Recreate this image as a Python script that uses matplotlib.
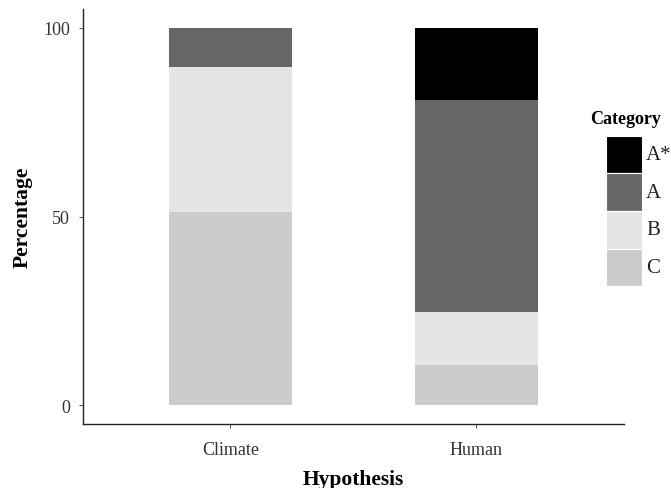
import matplotlib.pyplot as plt
from matplotlib.patches import Rectangle

# 数据
hypotheses = ['Climate', 'Human']
categories = ['C', 'B', 'A', 'A*']
values = {
    'C': [51.3, 10.6],
    'B': [38.4, 14.1],
    'A': [10.3, 56.1],
    'A*': [0.0, 19.2],
}
colors = {'A*': '#000000', 'A': '#666666', 'B': '#e5e5e5', 'C': '#cccccc'}
legend_order = ['A*', 'A', 'B', 'C']

plt.rcParams['font.family'] = ['Liberation Serif', 'DejaVu Serif']

W, H = 671, 489
fig = plt.figure(figsize=(W / 100, H / 100), dpi=100)
ax = fig.add_axes([82.7 / W, 1 - 425.3 / H, (624 - 82.7) / W, (425.3 - 10) / H])

x = list(range(len(hypotheses)))
bottom = [0.0] * len(hypotheses)
for cat in categories:
    ax.bar(x, values[cat], bottom=bottom, width=0.5, color=colors[cat], linewidth=0)
    bottom = [b + v for b, v in zip(bottom, values[cat])]

ax.set_xlim(-0.6, 1.6)
ax.set_ylim(-5, 105)
ax.set_xticks(x)
ax.set_xticklabels(hypotheses, fontsize=13, color='#333333')
ax.set_yticks([0, 50, 100])
ax.set_yticklabels(['0', '50', '100'], fontsize=13, color='#333333')
ax.tick_params(axis='x', length=3, width=0.6, color='#333333', pad=9)
ax.tick_params(axis='y', length=3, width=0.6, color='#333333', pad=6)
for s in ['top', 'right']:
    ax.spines[s].set_visible(False)
for s in ['left', 'bottom']:
    ax.spines[s].set_linewidth(1.0)
    ax.spines[s].set_color('#222222')

ax.set_xlabel('Hypothesis', fontsize=15.5, fontweight='bold', labelpad=8)
ax.set_ylabel('Percentage', fontsize=15.5, fontweight='bold', labelpad=8)

# 图例（手动绘制）
fig.text(590 / W, 1 - 120 / H, 'Category', fontsize=13, fontweight='bold',
         ha='left', va='center')
key_top = 136.7
key_h = 37.6
for i, cat in enumerate(legend_order):
    y0 = key_top + i * key_h
    fig.add_artist(Rectangle((606 / W, 1 - (y0 + key_h) / H), 36 / W, key_h / H,
                             transform=fig.transFigure, facecolor=colors[cat],
                             edgecolor='white', linewidth=0.8))
    fig.text(646 / W, 1 - (y0 + key_h / 2) / H, cat, fontsize=15,
             ha='left', va='center', color='#222222')

fig.savefig('out.png', dpi=100)
